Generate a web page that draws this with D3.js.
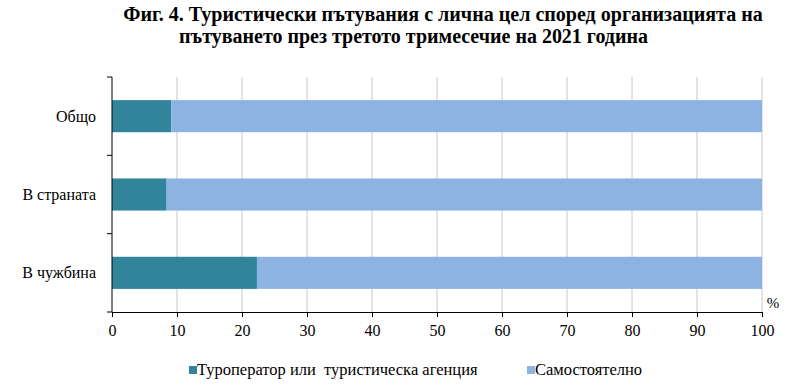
<!DOCTYPE html>
<html><head><meta charset="utf-8">
<script src="https://cdn.jsdelivr.net/npm/d3@7/dist/d3.min.js"></script>
<style>body{margin:0;background:#fff}</style>
</head><body><svg id="c" width="811" height="392"></svg>
<script>
const titleLines = ["Фиг. 4. Туристически пътувания с лична цел според организацията на","пътуването през третото тримесечие на 2021 година"];
const categories = ["Общо","В страната","В чужбина"];
const seriesNames = ["Туроператор или  туристическа агенция","Самостоятелно"];
const operatorValues = [9.1, 8.4, 22.3];
const selfValues = [90.9, 91.6, 77.7];
const xTicks = [0,10,20,30,40,50,60,70,80,90,100];
const colors = ["#31849B","#8DB3E2"];

const FF = '"Liberation Serif", serif';
const svg = d3.select("#c");
const m = {l:112, r:762, t:77, b:312};
const x = d3.scaleLinear().domain([0,100]).range([m.l,m.r]);
const y = d3.scaleBand().domain(categories).range([m.t,m.b]).paddingInner(0.59).paddingOuter(0.295);

// title: line extents [left, right] as in the reference
const titleBox = [[123,763],[179,648]];
svg.selectAll("text.title").data(titleLines).join("text").attr("class","title")
  .attr("x",(d,i)=>(titleBox[i][0]+titleBox[i][1])/2).attr("y",(d,i)=>21+i*22).attr("text-anchor","middle")
  .style("font-family",FF).attr("font-weight","bold").attr("font-size","20px").attr("fill","#000").text(d=>d)
  .each(function(d,i){
    const w = this.getComputedTextLength();
    const target = titleBox[i][1]-titleBox[i][0];
    d3.select(this).attr("font-size",(20*target/w).toFixed(2)+"px");
  });

svg.append("g").selectAll("line").data(xTicks.slice(1)).join("line")
  .attr("x1",d=>x(d)).attr("x2",d=>x(d)).attr("y1",m.t).attr("y2",m.b)
  .attr("stroke","#c8c8c8").attr("stroke-width",1);

const rows = categories.map((c,i)=>({c, v:[operatorValues[i], selfValues[i]]}));
rows.forEach(r=>{
  let acc=0;
  r.v.forEach((v,j)=>{
    svg.append("rect").attr("x",x(acc)).attr("width",x(acc+v)-x(acc))
      .attr("y",y(r.c)).attr("height",y.bandwidth()).attr("fill",colors[j]);
    acc+=v;
  });
});

const xa = svg.append("g").attr("transform",`translate(0,${m.b})`)
  .call(d3.axisBottom(x).tickValues(xTicks).tickSize(5).tickSizeOuter(0));
xa.select(".domain").attr("stroke","#000");
xa.selectAll(".tick line").attr("stroke","#000");
xa.selectAll("text").attr("font-size","16px").attr("fill","#000").attr("y",10).attr("dy","0.9em")
  .style("font-family",FF);

const yEdges = [m.t, ...categories.map(c=>y(c)+y.bandwidth()/2+y.step()/2)];
svg.append("line").attr("x1",m.l).attr("x2",m.l).attr("y1",m.t).attr("y2",m.b).attr("stroke","#000");
svg.selectAll("line.yt").data(yEdges).join("line").attr("class","yt")
  .attr("x1",m.l-5).attr("x2",m.l).attr("y1",d=>d).attr("y2",d=>d).attr("stroke","#000");
svg.selectAll("text.cat").data(categories).join("text").attr("class","cat")
  .attr("x",96).attr("y",d=>y(d)+y.bandwidth()/2).attr("dy","0.35em")
  .attr("text-anchor","end").style("font-family",FF).attr("font-size","16px").attr("fill","#000").text(d=>d);

svg.append("text").attr("x",773).attr("y",308).attr("text-anchor","middle")
  .style("font-family",FF).attr("font-size","15px").attr("fill","#000").text("%");

const legX = [189, 527];
seriesNames.forEach((n,i)=>{
  svg.append("rect").attr("x",legX[i]).attr("y",366).attr("width",8).attr("height",8).attr("fill",colors[i]);
  svg.append("text").attr("x",legX[i]+8).attr("y",375).style("font-family",FF).attr("font-size","16.5px").attr("fill","#000")
    .attr("xml:space","preserve").style("white-space","pre").text(n);
});
</script></body></html>
